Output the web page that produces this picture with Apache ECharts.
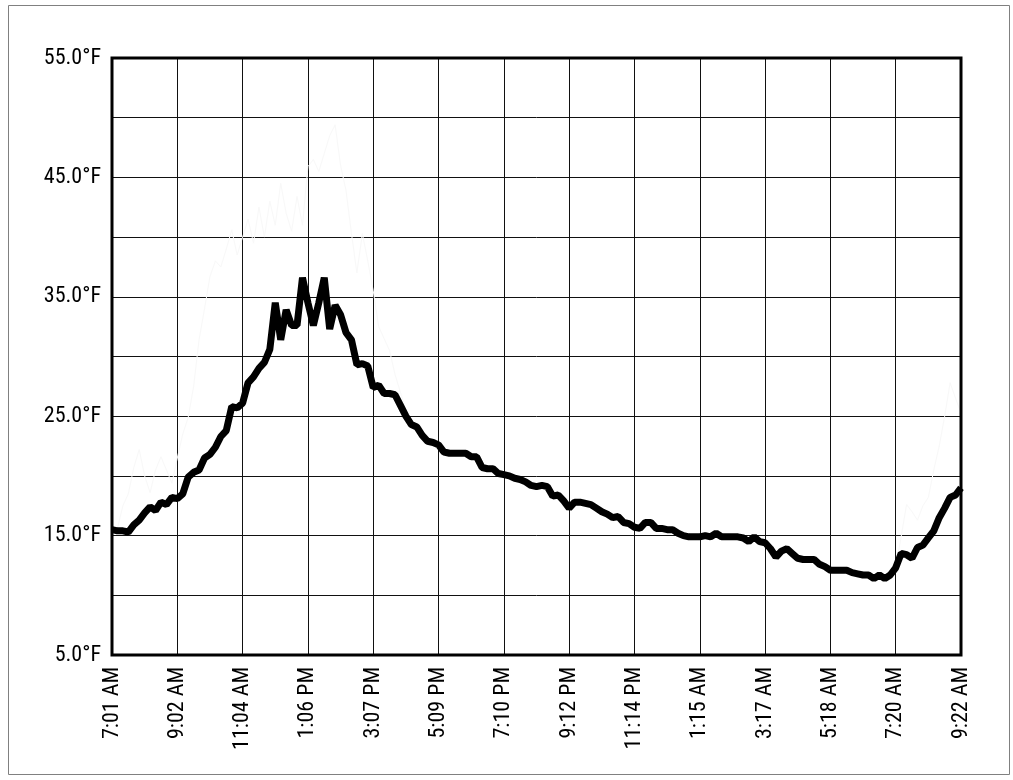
<!DOCTYPE html>
<html>
<head>
<meta charset="utf-8">
<script src="https://cdn.jsdelivr.net/npm/echarts@6/dist/echarts.min.js"></script>
<style>
html,body{margin:0;padding:0;background:#fff;}
#chart{width:1013px;height:780px;}
</style>
</head>
<body>
<div id="chart"></div>
<script>
// X tick labels (one every 12 samples)
const tickLabels = ['7:01 AM','9:02 AM','11:04 AM','1:06 PM','3:07 PM','5:09 PM','7:10 PM','9:12 PM','11:14 PM','1:15 AM','3:17 AM','5:18 AM','7:20 AM','9:22 AM'];
const samplesPerTick = 12;

// Average temperature (°F), thick black line
const avgTemp = [
15.5,15.4,15.4,15.3,15.9,16.3,16.9,17.4,17.1,17.8,17.6,18.2,18.1,
18.5,19.9,20.3,20.5,21.5,21.8,22.4,23.3,23.8,25.8,25.7,26.1,
27.8,28.3,29.0,29.5,30.6,34.5,31.4,33.9,32.6,32.6,36.6,34.5,
32.6,34.5,36.6,32.3,34.3,33.5,32.0,31.4,29.3,29.4,29.2,27.4,
27.6,26.9,26.9,26.8,25.9,25.0,24.3,24.1,23.4,22.9,22.8,22.6,
22.0,21.9,21.9,21.9,21.9,21.6,21.6,20.7,20.6,20.6,20.2,20.1,
20.0,19.8,19.7,19.5,19.2,19.1,19.2,19.1,18.3,18.4,17.9,17.3,
17.8,17.8,17.7,17.6,17.3,17.0,16.8,16.5,16.6,16.1,16.0,15.7,
15.6,16.1,16.1,15.6,15.6,15.5,15.5,15.2,15.0,14.9,14.9,14.9,
15.0,14.9,15.2,14.9,14.9,14.9,14.9,14.8,14.5,14.9,14.5,14.4,
13.9,13.2,13.7,13.9,13.5,13.1,13.0,13.0,13.0,12.6,12.4,12.1,
12.1,12.1,12.1,11.9,11.8,11.7,11.7,11.4,11.7,11.4,11.7,12.3,
13.5,13.4,13.1,14.0,14.2,14.8,15.4,16.5,17.3,18.2,18.4,19.0
];

// Faint high-temperature trace (barely visible light line)
const highTemp = [
15.5,15.6,17.5,18.5,20.7,22.2,20.0,18.6,20.5,21.6,20.5,19.4,21.5,
23.5,24.9,27.5,31.4,34.0,36.7,38.0,37.5,39.0,40.6,38.5,40.0,
41.5,39.5,42.5,40.0,43.0,41.0,44.5,42.0,40.5,43.4,41.0,45.9,
46.5,45.5,47.0,48.5,49.4,46.0,43.9,40.3,37.0,40.3,38.0,35.5,
32.5,31.5,30.5,28.5,27.0,25.5,24.5,24.1,23.4,22.9,22.8,22.6,
22.0,21.9,21.9,21.9,21.9,21.6,21.6,20.7,20.6,20.6,20.2,20.1,
20.0,19.8,19.7,19.5,19.2,19.1,19.2,19.1,18.3,18.4,17.9,17.3,
17.8,17.8,17.7,17.6,17.3,17.0,16.8,16.5,16.6,16.1,16.0,15.7,
15.6,16.1,16.1,15.6,15.6,15.5,15.5,15.2,15.0,14.9,14.9,14.9,
15.0,14.9,15.2,14.9,14.9,14.9,14.9,14.8,14.5,14.9,14.5,14.4,
13.9,13.2,13.7,13.9,13.5,13.1,13.0,13.0,13.0,12.6,12.4,12.1,
12.1,12.1,12.1,11.9,11.8,11.7,11.7,11.4,11.7,11.4,11.7,12.3,
14.9,17.6,17.0,16.3,17.5,18.2,20.5,22.5,25.0,27.8,26.5,25.3
];

const yMin = 5, yMax = 55, yStep = 5;
const FONT = '"Roboto Condensed","Liberation Sans Narrow","Liberation Sans",Arial,sans-serif';

const chart = echarts.init(document.getElementById('chart'), null, {renderer:'canvas'});
const lastIdx = (tickLabels.length - 1) * samplesPerTick;

chart.setOption({
  animation: false,
  backgroundColor: '#fff',
  graphic: [{
    type: 'rect', silent: true, z: -10,
    shape: {x: 8.5, y: 5.5, width: 1001, height: 769},
    style: {fill: 'none', stroke: '#808080', lineWidth: 1}
  }],
  grid: {
    left: 112, right: 52, top: 58, bottom: 125,
    show: true, borderColor: '#000', borderWidth: 3, backgroundColor: 'transparent', z: 5
  },
  xAxis: {
    type: 'value', min: 0, max: lastIdx, interval: samplesPerTick,
    axisLine: {show: false},
    axisTick: {show: false},
    splitLine: {show: true, lineStyle: {color: '#111', width: 1}},
    axisLabel: {
      rotate: 90, margin: 12, color: '#000', fontSize: 22, fontFamily: FONT,
      padding: [0, 0, 6, 0],
      showMinLabel: true, showMaxLabel: true,
      formatter: v => tickLabels[Math.round(v / samplesPerTick)] || ''
    }
  },
  yAxis: {
    type: 'value', min: yMin, max: yMax, interval: yStep,
    axisLine: {show: false},
    axisTick: {show: false},
    splitLine: {show: true, lineStyle: {color: '#111', width: 1}},
    axisLabel: {
      margin: 11, color: '#000', fontSize: 22, fontFamily: FONT,
      showMinLabel: true, showMaxLabel: true,
      formatter: v => ((Math.round(v - yMin) % 10) === 0 ? v.toFixed(1) + '°F' : '')
    }
  },
  series: [
    {
      type: 'line', name: 'High', showSymbol: false, z: 2,
      data: highTemp.map((v, i) => [i, v]),
      lineStyle: {color: '#f8f8f8', width: 1}
    },
    {
      type: 'line', name: 'Average', showSymbol: false, z: 3,
      data: avgTemp.map((v, i) => [i, v]),
      lineStyle: {color: '#000', width: 7, join: 'bevel'}
    }
  ]
});
</script>
</body>
</html>
